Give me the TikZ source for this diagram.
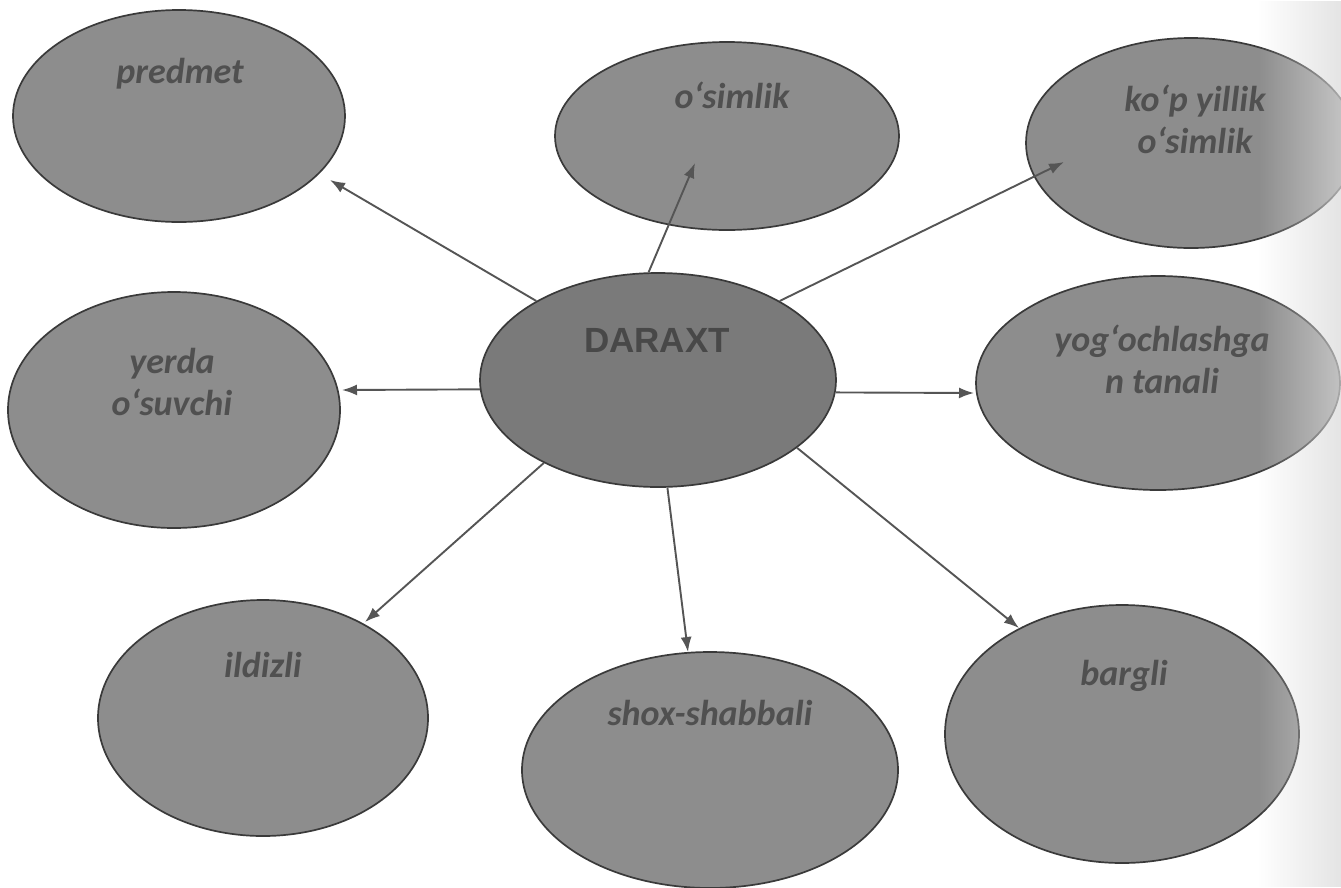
\documentclass[tikz,border=0pt]{standalone}
\usepackage{fontspec}
\setmainfont{Carlito}
\newfontfamily\darfont{Liberation Sans}
\usetikzlibrary{shapes.geometric,arrows.meta,fadings}
\definecolor{ellfill}{RGB}{141,141,141}
\definecolor{darfill}{RGB}{122,122,122}
\definecolor{edgec}{RGB}{58,58,58}
\definecolor{txtc}{RGB}{80,80,80}
\definecolor{darTc}{RGB}{72,72,72}
\definecolor{arrc}{RGB}{85,85,85}
\tikzfading[name=fadeR, left color=transparent!100, right color=transparent!0]
\begin{document}
\begin{tikzpicture}[x=1pt,y=-1pt,
  oval/.style={ellipse, draw=edgec, line width=1.7pt, fill=ellfill, inner sep=0pt},
  lbl/.style={font=\fontsize{36}{42}\selectfont\bfseries\itshape, text=txtc, align=center, anchor=base, inner sep=0pt},
  arr/.style={draw=arrc, line width=1.9pt, -{Latex[length=15pt,width=11pt]}}]
\fill[white] (0,0) rectangle (1341,887);
\useasboundingbox (0,0) rectangle (1341,887);
% ellipses
\node[oval, minimum width=332pt, minimum height=212pt] (pred) at (179,116) {};
\node[oval, minimum width=344pt, minimum height=188pt] (osim) at (727,136) {};
\node[oval, minimum width=330pt, minimum height=210pt] (kop) at (1191,143) {};
\node[oval, minimum width=332pt, minimum height=236pt] (yerda) at (174,410) {};
\node[oval, fill=darfill, minimum width=356pt, minimum height=214pt] (dar) at (658,380) {};
\node[oval, minimum width=364pt, minimum height=214pt] (yog) at (1158,383) {};
\node[oval, minimum width=330pt, minimum height=236pt] (ildiz) at (263,718) {};
\node[oval, minimum width=376pt, minimum height=236pt] (shox) at (710,770) {};
\node[oval, minimum width=354pt, minimum height=258pt] (barg) at (1122,734) {};
% labels (base anchor = baseline of last line)
\node[lbl] (predT) at (180,83) {predmet};
\node[lbl] (osimT) at (732,108) {o‘simlik};
\node[lbl] (kopT) at (1195,153) {ko‘p yillik\\o‘simlik};
\node[lbl] (yerdaT) at (172,415) {yerda\\o‘suvchi};
\node[lbl, text=darTc, font=\darfont\fontsize{35}{40}\selectfont\bfseries] (darT) at (657,352) {DARAXT};
\node[lbl] (yogT) at (1162,393) {yog‘ochlashga\\n tanali};
\node[lbl] (ildizT) at (263,677) {ildizli};
\node[lbl] (shoxT) at (710,725) {shox-shabbali};
\node[lbl] (bargT) at (1124,685) {bargli};
% arrow tips
\coordinate (tpred) at (330,180);
\coordinate (tosim) at (695,163);
\coordinate (tkop) at (1064,162);
\coordinate (tyerda) at (342,390);
\coordinate (tyog) at (974,393);
\coordinate (tildiz) at (365,622);
\coordinate (tshox) at (688,652);
\coordinate (tbarg) at (1019,628);
% arrows
\draw[arr] (dar.147) -- (tpred);
\draw[arr] (dar.95) -- (tosim);
\draw[arr] (dar.33) -- (tkop);
\draw[arr] (dar.183) -- (tyerda);
\draw[arr] (dar.356) -- (tyog);
\draw[arr] (dar.216) -- (tildiz);
\draw[arr] (dar.275) -- (tshox);
\draw[arr] (dar.334) -- (tbarg);
% scan shadow at right edge
\fill[gray!30, fill opacity=0.7, path fading=fadeR] (1258,0) rectangle (1341,887);
\end{tikzpicture}
\end{document}
